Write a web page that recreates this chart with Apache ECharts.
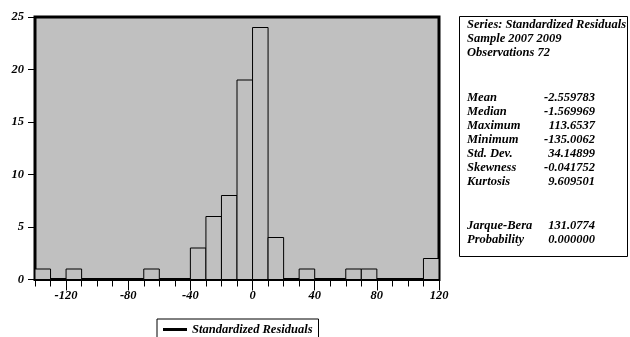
<!DOCTYPE html>
<html>
<head>
<meta charset="utf-8">
<script src="https://cdn.jsdelivr.net/npm/echarts@6/dist/echarts.min.js"></script>
<style>
  html, body { margin: 0; padding: 0; background: #fff; }
  #chart { width: 630px; height: 337px; }
</style>
</head>
<body>
<div id="chart"></div>
<script>
// histogram bins (width 10), start of each bin and its count
var binStarts = [-140, -130, -120, -110, -100, -90, -80, -70, -60, -50, -40, -30, -20,
                 -10, 0, 10, 20, 30, 40, 50, 60, 70, 80, 90, 100, 110];
var counts    = [1, 0, 1, 0, 0, 0, 0, 1, 0, 0, 3, 6, 8,
                 19, 24, 4, 0, 1, 0, 0, 1, 1, 0, 0, 0, 2];
var binWidth = 10;
var xLabelTicks = [-120, -80, -40, 0, 40, 80, 120];

// stats box
var headerLines = ['Series: Standardized Residuals', 'Sample 2007 2009', 'Observations 72'];
var statNames  = ['Mean', 'Median', 'Maximum', 'Minimum', 'Std. Dev.', 'Skewness', 'Kurtosis'];
var statValues = ['-2.559783', '-1.569969', '113.6537', '-135.0062', '34.14899', '-0.041752', '9.609501'];
var testNames  = ['Jarque-Bera', 'Probability'];
var testValues = ['131.0774', '0.000000'];

var FONT = '"Liberation Serif", "Times New Roman", serif';
var txt = { fontFamily: FONT, fontWeight: 'bold', fontStyle: 'italic', fontSize: 12.5, fill: '#000' };

var chart = echarts.init(document.getElementById('chart'));

var histData = binStarts.map(function (s, i) { return [s, s + binWidth, counts[i]]; });

// stats box: frame + text lines
var graphics = [{
  type: 'rect',
  shape: { x: 459.5, y: 16.5, width: 168, height: 240 },
  style: { fill: '#fff', stroke: '#000', lineWidth: 1 }
}];
function addLine(label, value, y) {
  graphics.push({ type: 'text', x: 467, y: y,
    style: Object.assign({ text: label, verticalAlign: 'middle' }, txt) });
  if (value != null) {
    graphics.push({ type: 'text', x: 595, y: y,
      style: Object.assign({ text: value, align: 'right', verticalAlign: 'middle' }, txt) });
  }
}
headerLines.forEach(function (l, i) { addLine(l, null, 25 + i * 14); });
statNames.forEach(function (l, i) { addLine(l, statValues[i], 98 + i * 14); });
testNames.forEach(function (l, i) { addLine(l, testValues[i], 226 + i * 14); });

var option = {
  animation: false,
  grid: {
    left: 35, top: 17, right: 191, bottom: 57.5,
    show: true, backgroundColor: '#c0c0c0', borderColor: '#000', borderWidth: 3
  },
  xAxis: [{
    type: 'value', min: -140, max: 120, interval: 10,
    axisLine: { show: false, onZero: false },
    axisTick: { show: true, length: 7, lineStyle: { color: '#000', width: 1 } },
    axisLabel: { show: false },
    splitLine: { show: false }
  }, {
    type: 'value', min: -140, max: 120, position: 'bottom',
    axisLine: { show: false, onZero: false },
    axisTick: { show: true, length: 11, customValues: xLabelTicks, lineStyle: { color: '#000', width: 1 } },
    axisLabel: {
      show: true, customValues: xLabelTicks, margin: 10,
      fontFamily: FONT, fontWeight: 'bold', fontStyle: 'italic', fontSize: 12.5, color: '#000'
    },
    splitLine: { show: false }
  }],
  yAxis: {
    type: 'value', min: 0, max: 25, interval: 5, position: 'left',
    axisLine: { show: false, onZero: false },
    axisTick: { show: true, length: 7, lineStyle: { color: '#000', width: 1 } },
    axisLabel: {
      margin: 11, fontFamily: FONT, fontWeight: 'bold', fontStyle: 'italic', fontSize: 12.5, color: '#000'
    },
    splitLine: { show: false }
  },
  legend: {
    left: 157, top: 319,
    orient: 'horizontal',
    borderColor: '#000', borderWidth: 1, borderRadius: 0,
    padding: [4, 6, 12, 6],
    itemWidth: 24, itemHeight: 3,
    selectedMode: false,
    textStyle: { fontFamily: FONT, fontWeight: 'bold', fontStyle: 'italic', fontSize: 12.5, color: '#000' },
    data: [{ name: 'Standardized Residuals', icon: 'rect', itemStyle: { color: '#000', borderWidth: 0 } }]
  },
  series: [{
    name: 'Standardized Residuals',
    type: 'custom',
    xAxisIndex: 0,
    itemStyle: { color: '#c0c0c0' },
    encode: { x: [0, 1], y: 2 },
    data: histData,
    renderItem: function (params, api) {
      var n = api.value(2);
      if (!n) return null;
      var p0 = api.coord([api.value(0), 0]);
      var p1 = api.coord([api.value(1), n]);
      return {
        type: 'rect',
        shape: { x: p0[0], y: p1[1], width: p1[0] - p0[0], height: p0[1] - p1[1] },
        style: { fill: '#c0c0c0', stroke: '#000', lineWidth: 1 }
      };
    }
  }],
  graphic: graphics
};

chart.setOption(option);
</script>
</body>
</html>
